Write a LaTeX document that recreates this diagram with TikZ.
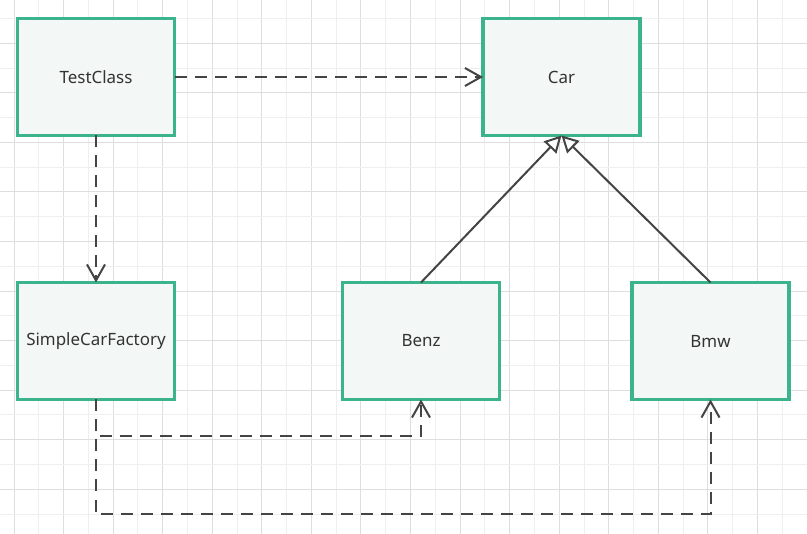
\documentclass[tikz,border=0pt]{standalone}
\usepackage{fontspec}
\setmainfont{Noto Sans}
\usetikzlibrary{arrows.meta}
\definecolor{gridA}{HTML}{DEDEDE}
\definecolor{gridB}{HTML}{EFEFEF}
\definecolor{boxline}{HTML}{3BB48D}
\definecolor{boxfill}{HTML}{F3F7F5}
\definecolor{conn}{HTML}{444444}
\definecolor{txt}{HTML}{333333}
\tikzset{
  cls/.style={draw=boxline, fill=boxfill, line width=2.3pt, minimum width=157*0.75pt, minimum height=117*0.75pt, inner sep=0pt, outer sep=0pt, text=txt, font=\fontsize{12.7pt}{15pt}\selectfont},
  dep/.style={draw=conn, line width=1.5pt, dash pattern=on 9pt off 6pt, -{Straight Barb[length=12pt,width=13.5pt]}},
  inh/.style={draw=conn, line width=1.5pt, -{Triangle[open,length=12.5pt,width=13pt,fill=white]}},
}
\begin{document}
\begin{tikzpicture}[x=0.75pt,y=-0.75pt]
\useasboundingbox (0,0) rectangle (807,534);
\fill[white] (0,0) rectangle (807,534);
\foreach \k in {0,...,32}{
  \pgfmathsetmacro\xx{14.06+24.78*\k}
  \ifodd\k \draw[gridB, line width=0.75pt] (\xx,0) -- (\xx,534);
  \else \draw[gridA, line width=0.75pt] (\xx,0) -- (\xx,534); \fi
}
\foreach \k in {0,...,21}{
  \pgfmathsetmacro\yy{18.5+24.78*\k}
  \ifodd\k \draw[gridA, line width=0.75pt] (0,\yy) -- (807,\yy);
  \else \draw[gridB, line width=0.75pt] (0,\yy) -- (807,\yy); \fi
}
\node[cls] (test) at (96,77) {TestClass};
\node[cls] (car) at (561.5,77) {Car};
\node[cls] (scf) at (96,341) {SimpleCarFactory};
\node[cls] (benz) at (421,341) {Benz};
\node[cls] (bmw) at (710.5,341) {Bmw};
\coordinate (j1) at (0,436);
\coordinate (j2) at (0,514.3);
\draw[dep] (test.east) -- (car.west);
\draw[dep] (test.south) -- (scf.north);
\draw[inh] (benz.north) -- (car.south);
\draw[inh] (bmw.north) -- (car.south);
\draw[dep] (scf.south) -- (scf.south |- j1) -| (benz.south);
\draw[dep] (scf.south) -- (scf.south |- j2) -| (bmw.south);
\end{tikzpicture}
\end{document}
